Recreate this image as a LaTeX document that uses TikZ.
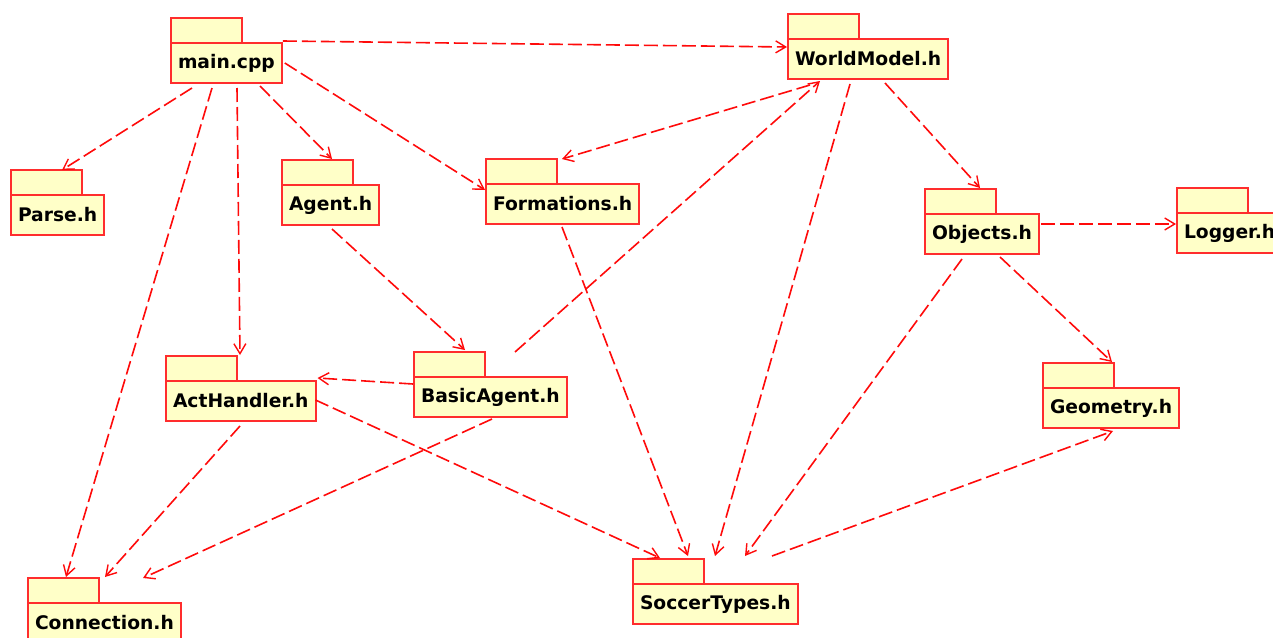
\documentclass[tikz,border=0pt]{standalone}
\usepackage{fontspec}
\setmainfont{DejaVu Sans}
\usetikzlibrary{arrows.meta}
\definecolor{pkgfill}{RGB}{255,255,200}
\definecolor{pkgline}{RGB}{255,45,45}
\definecolor{deplink}{RGB}{255,10,10}
\tikzset{pkg/.style = {draw=pkgline,fill=pkgfill,line width=2pt,anchor=north west,
  minimum height=40pt,inner xsep=7pt,inner ysep=0pt,outer sep=0pt,
  font=\fontsize{18.7}{20}\selectfont\bfseries}}
\tikzset{pkgtab/.style = {draw=pkgline,fill=pkgfill,line width=2pt,anchor=south west,
  minimum width=71pt,minimum height=25pt,inner sep=0pt,outer sep=0pt}}
\tikzset{dep/.style = {draw=deplink,line width=1.6pt,dash pattern=on 14pt off 5pt,
  -{Straight Barb[length=10pt,width=12pt,line width=1.4pt]}}}
\begin{document}
\begin{tikzpicture}[x=1pt,y=-1pt]
\clip (0,0) rectangle (1273,637);
\fill[white] (0,0) rectangle (1273,637);
% packages
\node[pkg] (main) at (171,43) {main.cpp};
\node[pkg] (parse) at (11,195) {Parse.h};
\node[pkg] (agent) at (282,185) {Agent.h};
\node[pkg] (formations) at (486,184) {Formations.h};
\node[pkg] (world) at (788,39) {WorldModel.h};
\node[pkg] (objects) at (925,214) {Objects.h};
\node[pkg] (logger) at (1177,213) {Logger.h};
\node[pkg] (geometry) at (1043,388) {Geometry.h};
\node[pkg] (act) at (166,381) {ActHandler.h};
\node[pkg] (basic) at (414,377) {BasicAgent.h};
\node[pkg] (soccer) at (633,584) {SoccerTypes.h};
\node[pkg] (conn) at (28,603) {Connection.h};
% tabs
\foreach \p in {main,parse,agent,formations,world,objects,logger,geometry,act,basic,soccer,conn}
  \node[pkgtab] (\p-tab) at (\p.north west) {};
% dependencies
\draw[dep] ([shift={(1,-2)}]main.north east) -- ([shift={(-1,8)}]world.north west);
\draw[dep] ([shift={(21,5)}]main.south west) -- ([shift={(51,0)}]parse-tab.north west);
\draw[dep] ([shift={(41,5)}]main.south west) -- ([shift={(38,-1)}]conn-tab.north west);
\draw[dep] ([shift={(66,5)}]main.south west) -- ([shift={(74,-1)}]act-tab.north west);
\draw[dep] ([shift={(89,3)}]main.south west) -- ([shift={(50,-1)}]agent-tab.north west);
\draw[dep] ([shift={(3,20)}]main.north east) -- ([shift={(-1,6)}]formations.north west);
\draw[dep] ([shift={(22,6)}]world.south west) -- ([shift={(5,0)}]formations-tab.north east);
\draw[dep] ([shift={(101,0)}]basic-tab.north west) -- ([shift={(32,2)}]world.south west);
\draw[dep] ([shift={(62,5)}]world.south west) -- ([shift={(82,-3)}]soccer-tab.north west);
\draw[dep] ([shift={(97,4)}]world.south west) -- ([shift={(55,-1)}]objects-tab.north west);
\draw[dep] ([shift={(2,10)}]objects.north east) -- ([shift={(-1,11)}]logger.north west);
\draw[dep] ([shift={(75,3)}]objects.south west) -- ([shift={(69,-1)}]geometry-tab.north west);
\draw[dep] ([shift={(37,5)}]objects.south west) -- ([shift={(112,-3)}]soccer-tab.north west);
\draw[dep] ([shift={(139,-3)}]soccer-tab.north west) -- ([shift={(70,3)}]geometry.south west);
\draw[dep] ([shift={(76,3)}]formations.south west) -- ([shift={(55,-3)}]soccer-tab.north west);
\draw[dep] ([shift={(0,19)}]act.north east) -- ([shift={(27,-1)}]soccer-tab.north west);
\draw[dep] ([shift={(50,4)}]agent.south west) -- ([shift={(51,-2)}]basic-tab.north west);
\draw[dep] ([shift={(-1,7)}]basic.north west) -- ([shift={(2,-3)}]act.north east);
\draw[dep] ([shift={(74,5)}]act.south west) -- ([shift={(77,-1)}]conn-tab.north west);
\draw[dep] ([shift={(78,2)}]basic.south west) -- ([shift={(115,0)}]conn-tab.north west);
\end{tikzpicture}
\end{document}
